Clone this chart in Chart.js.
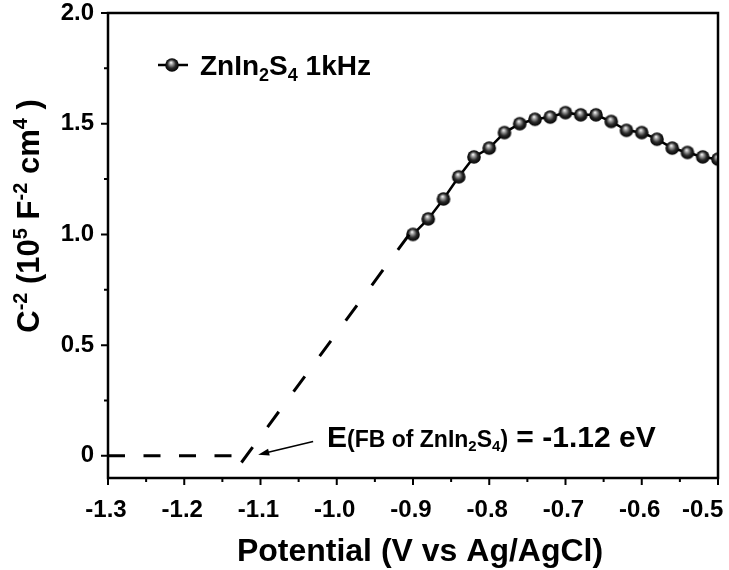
<!DOCTYPE html>
<html>
<head>
<meta charset="utf-8">
<script src="https://cdn.jsdelivr.net/npm/chart.js@4.4.1/dist/chart.umd.min.js"></script>
<style>
  html, body { margin: 0; padding: 0; background: #fff; }
  #wrap { width: 729px; height: 570px; }
</style>
</head>
<body>
<div id="wrap"><canvas id="mottSchottky" width="729" height="570"></canvas></div>
<script>
// Measured points (1 kHz)
const potential = [
  -0.90, -0.88, -0.86, -0.84, -0.82, -0.80, -0.78, -0.76, -0.74, -0.72, -0.70,
  -0.68, -0.66, -0.64, -0.62, -0.60, -0.58, -0.56, -0.54, -0.52, -0.50,
];
const invCapSq = [
  1.00, 1.07, 1.16, 1.26, 1.35, 1.39, 1.46, 1.50, 1.52, 1.53, 1.55,
  1.54, 1.54, 1.51, 1.47, 1.46, 1.43, 1.39, 1.37, 1.35, 1.34,
];

// Dashed extrapolation to the flat band potential
const baseX = [-1.3, -1.12];
const baseY = [0, 0];
const fitX = [-1.125, -0.905];
const fitY = [-0.03, 1.0];

// Axes
const xTicks = [-1.3, -1.2, -1.1, -1.0, -0.9, -0.8, -0.7, -0.6, -0.5];
const xTickLabels = ["-1.3", "-1.2", "-1.1", "-1.0", "-0.9", "-0.8", "-0.7", "-0.6", "-0.5"];
const xMinor = [-1.25, -1.15, -1.05, -0.95, -0.85, -0.75, -0.65, -0.55];
const yTicks = [0, 0.5, 1.0, 1.5, 2.0];
const yTickLabels = ["0", "0.5", "1.0", "1.5", "2.0"];
const yMinor = [0.25, 0.75, 1.25, 1.75];

const FONT = "'Liberation Sans', Arial, sans-serif";

// little shaded ball used as the marker
function makeBall(r) {
  const c = document.createElement("canvas");
  const s = Math.ceil(r * 2) + 2;
  c.width = s;
  c.height = s;
  const g = c.getContext("2d");
  const cx = s / 2, cy = s / 2;
  const grad = g.createRadialGradient(cx - 1, cy - 2.5, 0.3, cx, cy, r);
  grad.addColorStop(0, "#f2f2f2");
  grad.addColorStop(0.25, "#9a9a9a");
  grad.addColorStop(0.6, "#2a2a2a");
  grad.addColorStop(1, "#000");
  g.fillStyle = grad;
  g.beginPath();
  g.arc(cx, cy, r, 0, Math.PI * 2);
  g.fill();
  return c;
}
const ball = makeBall(6.8);

// draws a run of text pieces (for sub/superscripts)
function drawRich(ctx, x, y, parts) {
  ctx.textAlign = "left";
  ctx.textBaseline = "alphabetic";
  parts.forEach((p) => {
    ctx.font = "bold " + p.size + "px " + FONT;
    ctx.fillText(p.t, x, y + (p.dy || 0));
    x += ctx.measureText(p.t).width;
  });
  return x;
}
function richWidth(ctx, parts) {
  let w = 0;
  parts.forEach((p) => {
    ctx.font = "bold " + p.size + "px " + FONT;
    w += ctx.measureText(p.t).width;
  });
  return w;
}

const decorPlugin = {
  id: "decor",
  afterDraw(chart) {
    const { ctx, chartArea: a, scales } = chart;
    const xs = scales.x, ys = scales.y;
    ctx.save();
    ctx.strokeStyle = "#000";
    ctx.fillStyle = "#000";

    // frame
    ctx.lineWidth = 2.5;
    ctx.strokeRect(a.left, a.top, a.right - a.left, a.bottom - a.top);

    // tick marks
    ctx.lineWidth = 2;
    ctx.beginPath();
    xTicks.forEach((v) => {
      const px = xs.getPixelForValue(v);
      ctx.moveTo(px, a.bottom);
      ctx.lineTo(px, a.bottom + 7);
    });
    xMinor.forEach((v) => {
      const px = xs.getPixelForValue(v);
      ctx.moveTo(px, a.bottom);
      ctx.lineTo(px, a.bottom + 4);
    });
    yTicks.forEach((v) => {
      const py = ys.getPixelForValue(v);
      ctx.moveTo(a.left, py);
      ctx.lineTo(a.left - 7, py);
    });
    yMinor.forEach((v) => {
      const py = ys.getPixelForValue(v);
      ctx.moveTo(a.left, py);
      ctx.lineTo(a.left - 4, py);
    });
    ctx.stroke();

    // legend
    ctx.lineWidth = 2.5;
    ctx.beginPath();
    ctx.moveTo(158, 65);
    ctx.lineTo(188, 65);
    ctx.stroke();
    ctx.drawImage(ball, 172 - ball.width / 2, 65 - ball.height / 2);
    drawRich(ctx, 200, 75, [
      { t: "ZnIn", size: 28 },
      { t: "2", size: 18, dy: 6 },
      { t: "S", size: 28 },
      { t: "4", size: 18, dy: 6 },
      { t: " 1kHz", size: 28 },
    ]);

    // flat band annotation + arrow
    drawRich(ctx, 327, 447, [
      { t: "E", size: 30 },
      { t: "(FB of ZnIn", size: 23 },
      { t: "2", size: 15, dy: 4 },
      { t: "S", size: 23 },
      { t: "4", size: 15, dy: 4 },
      { t: ")", size: 23 },
      { t: " = -1.12 eV", size: 30 },
    ]);
    const tipX = xs.getPixelForValue(-1.103), tipY = ys.getPixelForValue(0.005);
    const tailX = xs.getPixelForValue(-1.031), tailY = ys.getPixelForValue(0.065);
    const ang = Math.atan2(tipY - tailY, tipX - tailX);
    ctx.lineWidth = 1.6;
    ctx.beginPath();
    ctx.moveTo(tailX, tailY);
    ctx.lineTo(tipX - 6 * Math.cos(ang), tipY - 6 * Math.sin(ang));
    ctx.stroke();
    ctx.beginPath();
    ctx.moveTo(tipX, tipY);
    ctx.lineTo(tipX - 11 * Math.cos(ang) + 3.5 * Math.sin(ang), tipY - 11 * Math.sin(ang) - 3.5 * Math.cos(ang));
    ctx.lineTo(tipX - 11 * Math.cos(ang) - 3.5 * Math.sin(ang), tipY - 11 * Math.sin(ang) + 3.5 * Math.cos(ang));
    ctx.closePath();
    ctx.fill();

    // axis titles
    ctx.font = "bold 32px " + FONT;
    ctx.textAlign = "center";
    ctx.textBaseline = "alphabetic";
    ctx.fillText("Potential (V vs Ag/AgCl)", (a.left + a.right) / 2 + 7, 561);

    const yParts = [
      { t: "C", size: 31 },
      { t: "-2", size: 20, dy: -12 },
      { t: " (10", size: 31 },
      { t: "5", size: 20, dy: -12 },
      { t: " F", size: 31 },
      { t: "-2", size: 20, dy: -12 },
      { t: " cm", size: 31 },
      { t: "4", size: 20, dy: -12 },
      { t: " )", size: 31 },
    ];
    const w = richWidth(ctx, yParts);
    ctx.translate(39, 216);
    ctx.rotate(-Math.PI / 2);
    drawRich(ctx, -w / 2, 0, yParts);
    ctx.restore();
  },
};

const ctx = document.getElementById("mottSchottky");

new Chart(ctx, {
  type: "scatter",
  data: {
    datasets: [
      {
        label: "baseline",
        data: baseX.map((x, i) => ({ x: x, y: baseY[i] })),
        showLine: true,
        borderColor: "#000",
        borderWidth: 3,
        borderDash: [17, 18.5],
        pointRadius: 0,
      },
      {
        label: "fit",
        data: fitX.map((x, i) => ({ x: x, y: fitY[i] })),
        showLine: true,
        borderColor: "#000",
        borderWidth: 3,
        borderDash: [19, 25],
        pointRadius: 0,
      },
      {
        label: "ZnIn2S4 1kHz",
        data: potential.map((x, i) => ({ x: x, y: invCapSq[i] })),
        showLine: true,
        borderColor: "#000",
        borderWidth: 2.5,
        pointStyle: ball,
        pointRadius: 7,
      },
    ],
  },
  options: {
    responsive: false,
    animation: false,
    layout: { padding: { left: 0, right: 11, top: 13, bottom: 0 } },
    plugins: {
      legend: { display: false },
      tooltip: { enabled: false },
    },
    scales: {
      x: {
        type: "linear",
        min: -1.3,
        max: -0.5,
        afterBuildTicks: (scale) => {
          scale.ticks = xTicks.map((v) => ({ value: v }));
        },
        afterFit: (scale) => {
          scale.height = 92;
          scale.paddingLeft = 0;
          scale.paddingRight = 0;
        },
        grid: { display: false, drawTicks: false },
        border: { display: false },
        ticks: {
          color: "#000",
          padding: 18,
          labelOffset: -2,
          maxRotation: 0,
          autoSkip: false,
          font: { family: FONT, size: 24, weight: "bold" },
          // last label is pushed left so it stays inside the page
          callback: (value, index) =>
            index === xTickLabels.length - 1 ? xTickLabels[index] + "    " : xTickLabels[index],
        },
      },
      y: {
        type: "linear",
        min: -0.1,
        max: 2.0,
        afterBuildTicks: (scale) => {
          scale.ticks = yTicks.map((v) => ({ value: v }));
        },
        afterFit: (scale) => {
          scale.width = 108;
          scale.paddingTop = 0;
          scale.paddingBottom = 0;
        },
        grid: { display: false, drawTicks: false },
        border: { display: false },
        ticks: {
          color: "#000",
          padding: 14,
          autoSkip: false,
          font: { family: FONT, size: 24, weight: "bold" },
          callback: (value, index) => yTickLabels[index],
        },
      },
    },
  },
  plugins: [decorPlugin],
});
</script>
</body>
</html>
